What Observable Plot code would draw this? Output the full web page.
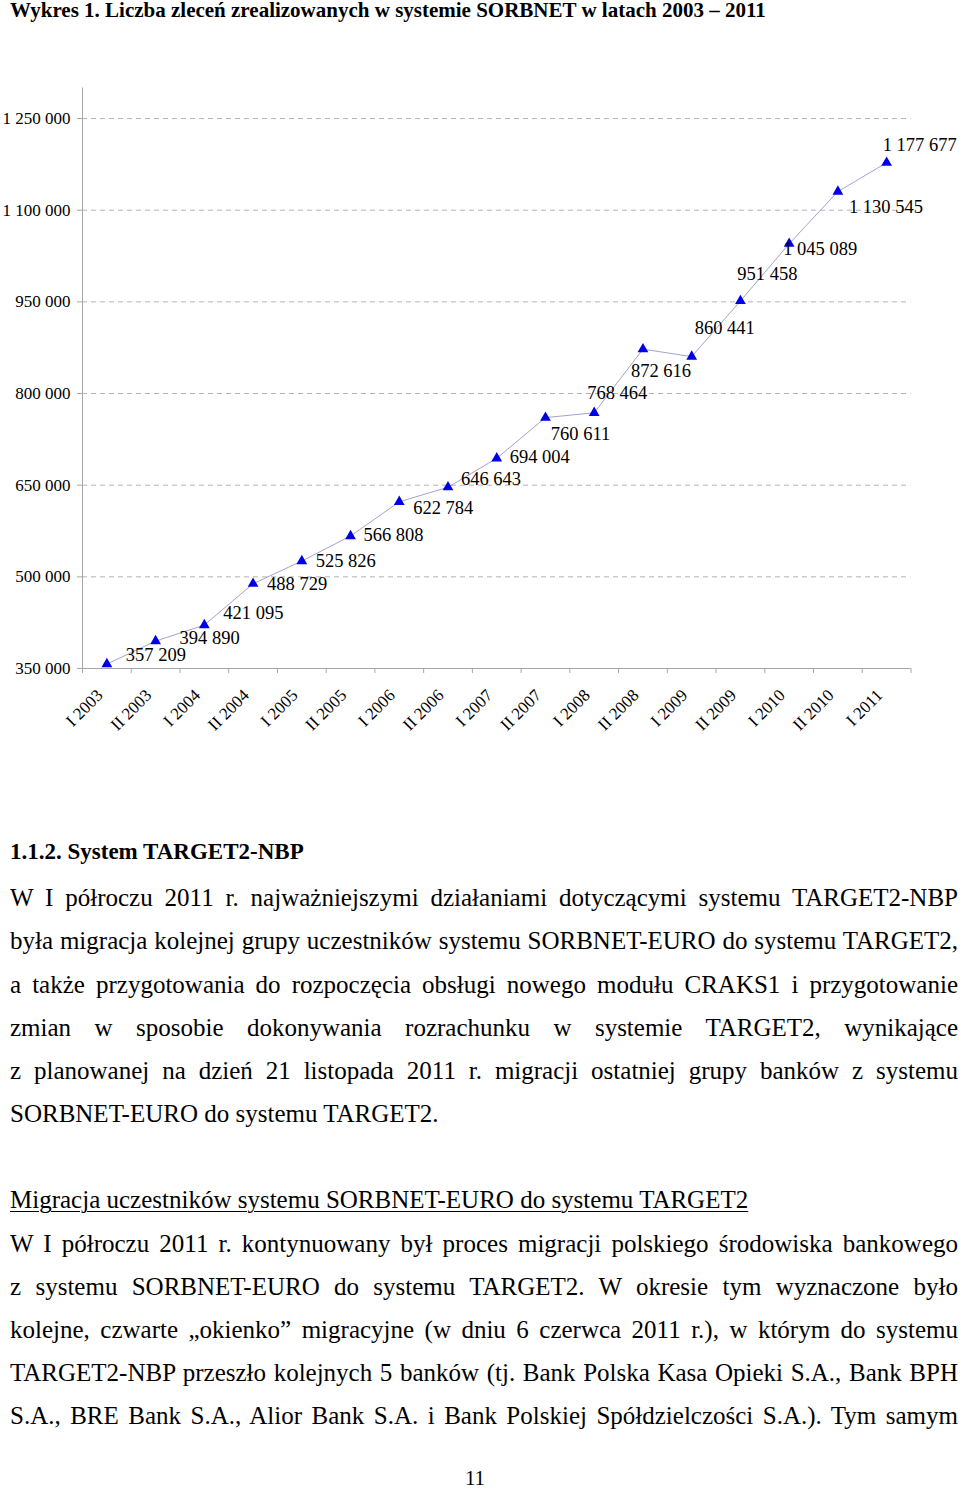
<!DOCTYPE html>
<html>
<head>
<meta charset="utf-8">
<script src="https://cdn.jsdelivr.net/npm/d3@7"></script>
<script src="https://cdn.jsdelivr.net/npm/@observablehq/plot@0.6"></script>
<style>
  html, body { margin: 0; padding: 0; background: #fff; }
  body { width: 960px; height: 1488px; position: relative; overflow: hidden; font-family: "Liberation Serif", "Times New Roman", serif; color: #000; }
  .abs { position: absolute; }
  #title { left: 10px; top: 0px; font-size: 21px; line-height: 21px; font-weight: bold; white-space: nowrap; }
  #chart { left: 0; top: 30px; }
  #chart svg, #chart svg text { font-family: "Liberation Serif", "Times New Roman", serif !important; }
  .line { position: absolute; left: 10px; width: 948px; font-size: 25px; line-height: 28px; white-space: nowrap; }
  .just { text-align: justify; text-align-last: justify; white-space: normal; }
  .h { font-weight: bold; font-size: 23px; }
  .u { text-decoration: underline; text-underline-offset: 3px; text-decoration-thickness: 1px; }
</style>
</head>
<body>
<div id="title" class="abs">Wykres 1. Liczba zleceń zrealizowanych w systemie SORBNET w latach 2003 – 2011</div>
<div id="chart" class="abs"></div>
<div id="text"></div>
<script>
// ---- data ----
const categories = ["I 2003","II 2003","I 2004","II 2004","I 2005","II 2005","I 2006","II 2006","I 2007","II 2007","I 2008","II 2008","I 2009","II 2009","I 2010","II 2010","I 2011"];
const values = [357209,394890,421095,488729,525826,566808,622784,646643,694004,760611,768464,872616,860441,951458,1045089,1130545,1177677];
const yTicks = [350000,500000,650000,800000,950000,1100000,1250000];
const yDomain = [350000,1300000];
// label placement offsets (px) relative to each point, as in the original chart
const labelDx = [49,54,49,44,44,43,44,43,43,35,23,18,33,27,31,48,33];
const labelDy = [-9,-3,-12,0,0,-1,6,-8,-1,16,-20,22,-29,-27,5,16,-18];

const fmt = d3.formatLocale({decimal: ",", thousands: " ", grouping: [3], currency: ["", ""]}).format(",d");
const idx = d3.range(categories.length);
const bounds = d3.range(categories.length + 1).map(i => i - 0.5);

const font = "Liberation Serif";
const axisGray = "#a6a6a6";

const marks = [
  Plot.ruleY(yTicks.filter(v => v > yDomain[0]), {stroke: "#b4b4b4", strokeDasharray: "5,4", strokeWidth: 1}),
  Plot.ruleX([-0.5], {stroke: axisGray}),
  Plot.ruleY([yDomain[0]], {stroke: axisGray}),
  Plot.axisY({ticks: yTicks, tickFormat: fmt, tickSize: 5, tickPadding: 7, stroke: axisGray, fontSize: 17, fontFamily: font, fill: "#000", label: null}),
  Plot.axisX({ticks: bounds, tickFormat: () => "", tickSize: 5, stroke: axisGray, label: null}),
  Plot.axisX({ticks: idx, tickFormat: i => categories[i], tickSize: 0, tickPadding: 24, dx: -7, tickRotate: -45, fontSize: 17, fontFamily: font, fill: "#000", label: null}),
  Plot.line(idx, {x: i => i, y: i => values[i], stroke: "#a3a3d1", strokeWidth: 1}),
  Plot.dot(idx, {x: i => i, y: i => values[i], symbol: "triangle", r: 4, fill: "#0000e6", stroke: "none"}),
  ...idx.map(i => Plot.text([i], {x: d => d, y: d => values[d], text: d => fmt(values[d]), dx: labelDx[i], dy: labelDy[i], fontSize: 18.5, fontFamily: font, fill: "#000", textAnchor: "middle"}))
];

const chart = Plot.plot({
  width: 960,
  height: 710,
  marginTop: 57.5,
  marginBottom: 72,
  marginLeft: 82,
  marginRight: 49.5,
  style: {fontFamily: font, background: "transparent", overflow: "visible"},
  x: {type: "linear", domain: [-0.5, categories.length - 0.5], axis: null},
  y: {domain: yDomain, axis: null},
  marks
});
document.getElementById("chart").appendChild(chart);

// ---- body text ----
const textLines = [
  {y: 852, t: "1.1.2. System TARGET2-NBP", cls: "h"},
  {y: 898, t: "W I półroczu 2011 r. najważniejszymi działaniami dotyczącymi systemu TARGET2-NBP", cls: "just"},
  {y: 941, t: "była migracja kolejnej grupy uczestników systemu SORBNET-EURO do systemu TARGET2,", cls: "just"},
  {y: 985, t: "a także przygotowania do rozpoczęcia obsługi nowego modułu CRAKS1 i przygotowanie", cls: "just"},
  {y: 1028, t: "zmian w sposobie dokonywania rozrachunku w systemie TARGET2, wynikające", cls: "just"},
  {y: 1071, t: "z\u00a0planowanej na dzień 21 listopada 2011 r. migracji ostatniej grupy banków z systemu", cls: "just"},
  {y: 1114, t: "SORBNET-EURO do systemu TARGET2.", cls: ""},
  {y: 1200, t: "Migracja uczestników systemu SORBNET-EURO do systemu TARGET2", cls: "u"},
  {y: 1244, t: "W I półroczu 2011 r. kontynuowany był proces migracji polskiego środowiska bankowego", cls: "just"},
  {y: 1287, t: "z\u00a0systemu SORBNET-EURO do systemu TARGET2. W okresie tym wyznaczone było", cls: "just"},
  {y: 1330, t: "kolejne, czwarte „okienko” migracyjne (w dniu 6 czerwca 2011 r.), w którym do systemu", cls: "just"},
  {y: 1373, t: "TARGET2-NBP przeszło kolejnych 5 banków (tj. Bank Polska Kasa Opieki S.A., Bank BPH", cls: "just"},
  {y: 1416, t: "S.A., BRE Bank S.A., Alior Bank S.A. i Bank Polskiej Spółdzielczości S.A.). Tym samym", cls: "just"}
];
const tc = document.getElementById("text");
for (const l of textLines) {
  const d = document.createElement("div");
  d.className = "line " + l.cls;
  d.style.top = (l.y - 14) + "px";
  d.textContent = l.t;
  tc.appendChild(d);
}
const pn = document.createElement("div");
pn.className = "abs";
pn.style.cssText = "left:0;width:950px;text-align:center;top:1468px;font-size:21px;line-height:21px;";
pn.textContent = "11";
tc.appendChild(pn);
</script>
</body>
</html>
